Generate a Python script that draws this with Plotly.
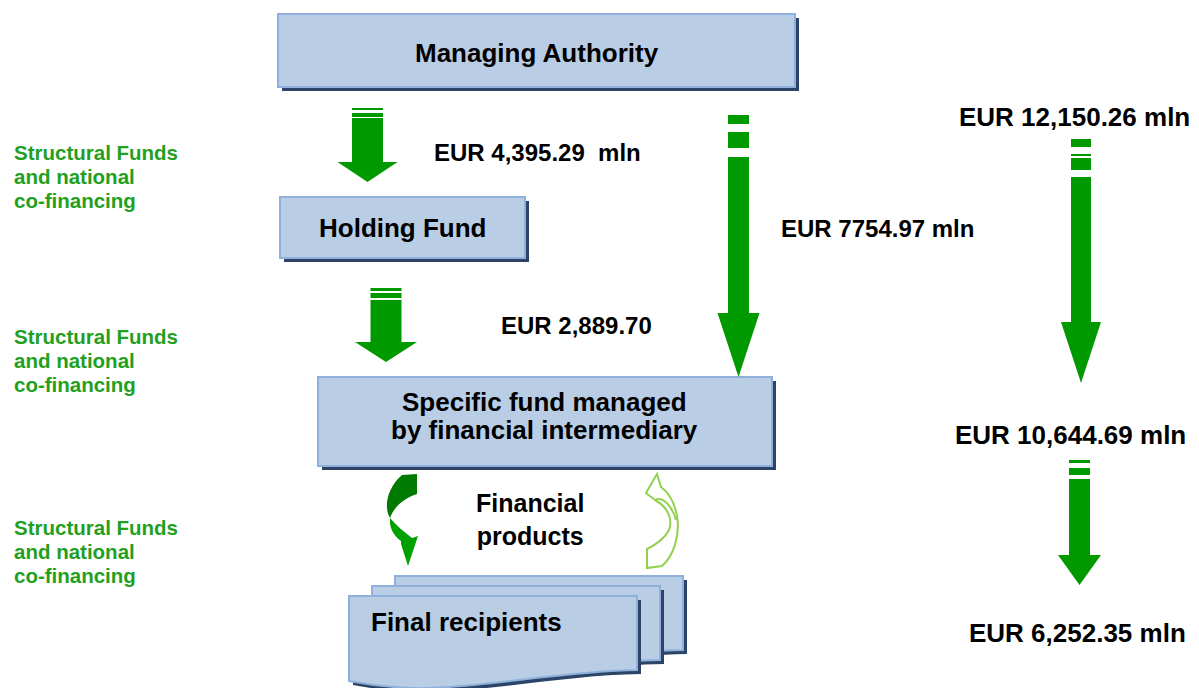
import plotly.graph_objects as go

# ---------------- data (texts / values) ----------------
box_labels = ["Managing Authority", "Holding Fund",
              "Specific fund managed", "by financial intermediary",
              "Final recipients"]
source_lines = ["Structural Funds", "and national", "co-financing"]
flow_amounts = ["EUR 4,395.29  mln", "EUR 2,889.70", "EUR 7754.97 mln"]
total_amounts = ["EUR 12,150.26 mln", "EUR 10,644.69 mln", "EUR 6,252.35 mln"]
product_lines = ["Financial", "products"]

# ---------------- styles ----------------
FILL = "#B9CDE5"
EDGE = "#8EB0DA"
SHADOW = "#2B4467"
GREEN = "#009900"
TXT_GREEN = "#1FA01F"
FONT = "Liberation Sans, Arial, sans-serif"

W, H = 1199, 688
fig = go.Figure()
shapes = []
ann = []


def box(x0, y0, x1, y1):
    shapes.append(dict(type="rect", x0=x0 + 4, y0=y0 + 4, x1=x1 + 4, y1=y1 + 4,
                       fillcolor=SHADOW, line=dict(width=0), layer="below"))
    shapes.append(dict(type="rect", x0=x0, y0=y0, x1=x1, y1=y1,
                       fillcolor=FILL, line=dict(color=EDGE, width=2), layer="below"))


def down_arrow(xc, sw, hw, stripes, shaft_top, head_y, tip_y):
    for (a, b) in stripes:
        shapes.append(dict(type="rect", x0=xc - sw / 2, x1=xc + sw / 2, y0=a, y1=b,
                           fillcolor=GREEN, line=dict(width=0)))
    p = (f"M {xc - sw/2} {shaft_top} L {xc + sw/2} {shaft_top} L {xc + sw/2} {head_y} "
         f"L {xc + hw/2} {head_y} L {xc} {tip_y} L {xc - hw/2} {head_y} "
         f"L {xc - sw/2} {head_y} Z")
    shapes.append(dict(type="path", path=p, fillcolor=GREEN, line=dict(width=0)))


def sheet(x0, x1, top, yl, yr, shadow=True):
    p = (f"M {x0} {top} L {x1} {top} L {x1} {yr} "
         f"C {x1 - 77} {yr + 1}, {x0 + 121} {yl + 9}, {x0 + 61} {yl + 7} "
         f"C {x0 + 36} {yl + 6}, {x0 + 16} {yl + 3}, {x0} {yl} Z")
    if shadow:
        ps = (f"M {x0 + 4} {top + 4} L {x1 + 4} {top + 4} L {x1 + 4} {yr + 4} "
              f"C {x1 - 73} {yr + 5}, {x0 + 125} {yl + 13}, {x0 + 65} {yl + 11} "
              f"C {x0 + 40} {yl + 10}, {x0 + 20} {yl + 7}, {x0 + 4} {yl + 4} Z")
        shapes.append(dict(type="path", path=ps, fillcolor=SHADOW, line=dict(width=0)))
    shapes.append(dict(type="path", path=p, fillcolor=FILL, line=dict(color=EDGE, width=2)))


def text(x, y, s, size, color="black", anchor="center", bold=True):
    ann.append(dict(x=x, y=y, xref="x", yref="y", text=f"<b>{s}</b>" if bold else s,
                    showarrow=False, xanchor=anchor, yanchor="middle",
                    font=dict(family=FONT, size=size, color=color)))


# ---------------- boxes ----------------
box(278, 14, 795, 87)
box(280, 197, 525, 258)
box(318, 377, 772, 466)

sheet(395, 683, 576, 660, 650)
sheet(372, 660, 586, 670, 660)
sheet(349, 637, 596, 681, 670)

# ---------------- straight arrows ----------------
down_arrow(367.5, 31, 60, [(108, 110), (113, 117)], 118, 162, 182)
down_arrow(386, 31, 62, [(288, 291), (293, 298)], 300, 342, 362)
down_arrow(738.5, 21, 42, [(115, 124), (132, 148)], 157, 313, 377)
down_arrow(1081, 20, 40, [(139, 147), (154, 156), (158, 170)], 177, 322, 383)
down_arrow(1079.5, 21, 43, [(460, 463), (468, 475)], 479, 555, 585)

# ---------------- curved arrows ----------------
# left (solid, dark to bright green)
shapes.append(dict(type="path",
                   path="M 402 475 L 417 474 L 417 494 C 404 498, 394 507, 390 518 "
                        "C 384 508, 386 489, 402 475 Z",
                   fillcolor="#007A00", line=dict(width=0)))
shapes.append(dict(type="path",
                   path="M 390 518 C 389 527, 393 535, 401 541 L 401 544 L 408 566 "
                        "L 418 536 L 412 538 C 404 532, 396 525, 390 518 Z",
                   fillcolor="#00A000", line=dict(width=0)))
# right (hollow, light green)
shapes.append(dict(type="path",
                   path="M 657 474 L 646 493 L 655 500 C 668 507, 673 520, 669 530 "
                        "C 664 540, 655 545, 647 549 L 647 568 L 662 566 "
                        "C 675 555, 680 532, 677 516 C 674 500, 668 492, 661 487 Z",
                   fillcolor="white", line=dict(color="#92D050", width=2)))
shapes.append(dict(type="path",
                   path="M 655 500 C 662 496, 672 505, 676 520",
                   line=dict(color="#92D050", width=2)))

# ---------------- texts ----------------
text(537, 53, box_labels[0], 26)
text(403, 228, box_labels[1], 26)
text(544, 402, box_labels[2], 26)
text(544, 430, box_labels[3], 26)
text(369, 622, box_labels[4], 26, anchor="left")

text(530, 519, "<br>".join(product_lines), 25)

for y0 in (152, 336, 527):
    for i, s in enumerate(source_lines):
        text(12, y0 + 24 * i, s, 20.5, color=TXT_GREEN, anchor="left")

text(432, 152, flow_amounts[0], 24, anchor="left")
text(499, 325, flow_amounts[1], 24, anchor="left")
text(779, 228, flow_amounts[2], 24, anchor="left")

text(957, 117, total_amounts[0], 26, anchor="left")
text(953, 435, total_amounts[1], 26, anchor="left")
text(967, 633, total_amounts[2], 26, anchor="left")

fig.update_layout(
    width=W, height=H, margin=dict(l=0, r=0, t=0, b=0),
    paper_bgcolor="white", plot_bgcolor="white",
    xaxis=dict(range=[0, W], visible=False, fixedrange=True),
    yaxis=dict(range=[H, 0], visible=False, fixedrange=True),
    shapes=shapes, annotations=ann, showlegend=False,
)

fig.write_html("out.html", config={"displayModeBar": False},
               post_script="document.body.style.margin='0';document.body.style.overflow='hidden';")
